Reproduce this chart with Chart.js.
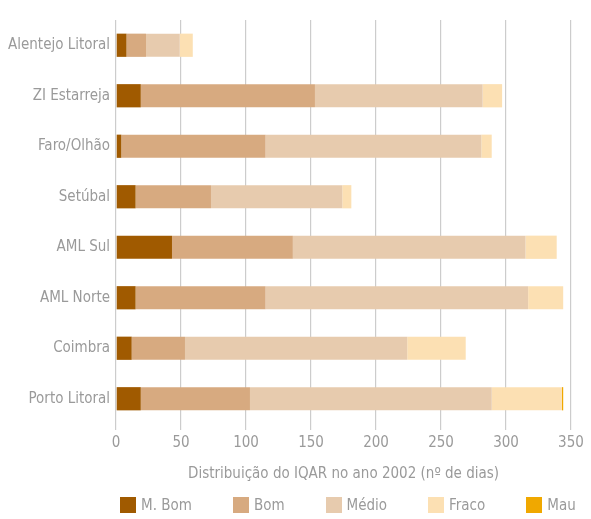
<!DOCTYPE html>
<html>
<head>
<meta charset="utf-8">
<script src="https://cdn.jsdelivr.net/npm/chart.js@4/dist/chart.umd.min.js"></script>
<style>
  html, body { margin: 0; padding: 0; background: #fff; }
  #wrap { width: 591px; height: 519px; position: relative; }
  #legend {
    position: absolute; left: 120px; top: 497px;
    display: flex; gap: 41px;
    font-family: 'Liberation Sans Narrow', 'DejaVu Sans Condensed', sans-serif;
    font-size: 15px; color: #9a9a9a; line-height: 16px;
  }
  .lg-item { display: flex; align-items: center; }
  .lg-box { width: 16px; height: 16px; margin-right: 5px; }
</style>
</head>
<body>
<div id="wrap">
  <canvas id="iqarChart"></canvas>
  <div id="legend"></div>
</div>
<script>
const stations = ['Alentejo Litoral', 'ZI Estarreja', 'Faro/Olhão', 'Setúbal', 'AML Sul', 'AML Norte', 'Coimbra', 'Porto Litoral'];
const muitoBom = [8, 19, 4, 15, 43, 15, 12, 19];
const bom = [15, 134, 111, 58, 93, 100, 41, 84];
const medio = [26, 129, 166, 101, 179, 202, 171, 186];
const fraco = [10, 15, 8, 7, 24, 27, 45, 54];
const mau = [0, 0, 0, 0, 0, 0, 0, 1];
const xTicks = [0, 50, 100, 150, 200, 250, 300, 350];

const font = "'Liberation Sans Narrow', 'DejaVu Sans Condensed', sans-serif";
const grey = '#9a9a9a';

const mk = (label, data, color) => ({
    label, data,
    backgroundColor: color,
    borderWidth: 0,
    barPercentage: 0.46,
    categoryPercentage: 1
});

const chart = new Chart(document.getElementById('iqarChart'), {
    type: 'bar',
    data: {
        labels: stations,
        datasets: [
            mk('M. Bom', muitoBom, '#a05a00'),
            mk('Bom', bom, '#d7aa80'),
            mk('Médio', medio, '#e7cbae'),
            mk('Fraco', fraco, '#fce0b3'),
            mk('Mau', mau, '#f0a800')
        ]
    },
    options: {
        indexAxis: 'y',
        responsive: true,
        maintainAspectRatio: false,
        animation: false,
        layout: { padding: { top: 20, right: 20, left: 2, bottom: 36 } },
        plugins: {
            legend: { display: false },
            tooltip: { enabled: false }
        },
        scales: {
            x: {
                stacked: true,
                min: 0,
                max: 350,
                afterBuildTicks: axis => { axis.ticks = xTicks.map(v => ({ value: v })); },
                grid: { color: '#cccccc', lineWidth: 1.2, tickLength: 6 },
                border: { display: false },
                ticks: { color: grey, font: { family: font, size: 15 }, padding: 4 },
                title: {
                    display: true,
                    text: 'Distribuição do IQAR no ano 2002 (nº de dias)',
                    color: grey,
                    font: { family: font, size: 15 },
                    padding: { top: 9, bottom: 0 }
                }
            },
            y: {
                stacked: true,
                grid: { display: false, drawTicks: false },
                border: { display: false },
                ticks: { color: grey, font: { family: font, size: 15 }, padding: 6 }
            }
        }
    }
});

// legend in html so the item spacing can match the original
const legendEl = document.getElementById('legend');
chart.data.datasets.forEach(ds => {
    const item = document.createElement('div');
    item.className = 'lg-item';
    item.innerHTML = `<div class="lg-box" style="background:${ds.backgroundColor}"></div><span>${ds.label}</span>`;
    legendEl.appendChild(item);
});
</script>
</body>
</html>
